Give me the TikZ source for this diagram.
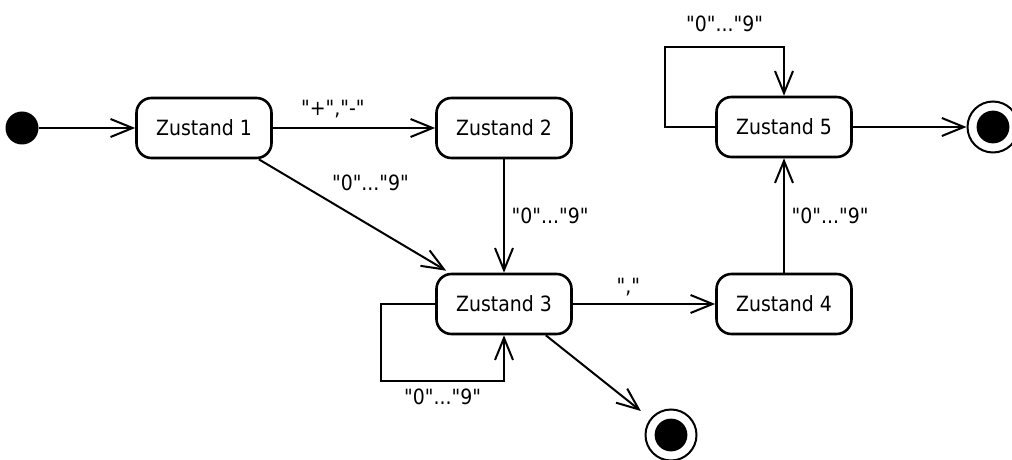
\documentclass[tikz,border=0pt]{standalone}
\usepackage{fontspec}
\setmainfont{DejaVu Sans Condensed}[Ligatures=TeXOff]
\usetikzlibrary{arrows.meta}
\begin{document}
\begin{tikzpicture}[x=0.5pt,y=-0.5pt,font=\fontsize{10.5}{12}\selectfont,
zustand/.style={draw,line width=1.3pt,rounded corners=7.5pt,minimum width=67.5pt,minimum height=30pt,inner sep=0pt},
pfeil/.style={line width=1pt,-{Straight Barb[length=11pt,width=9pt,line width=1pt]}},
start/.style={circle,fill,minimum size=16.5pt,inner sep=0pt},
ende/.style={circle,draw,line width=1pt,minimum size=25.5pt,inner sep=0pt,path picture={\fill(path picture bounding box.center)circle[radius=8.2pt];}}]
\useasboundingbox(0,0)rectangle(1012,460);
\node[start](s)at(22,128){};
\node[zustand](z1)at(204,128){Zustand 1};
\node[zustand](z2)at(504,128){Zustand 2};
\node[zustand](z3)at(504,304){Zustand 3};
\node[zustand](z4)at(784,304){Zustand 4};
\node[zustand](z5)at(784,127){Zustand 5};
\node[ende](e3)at(671,435){};
\node[ende](e5)at(993,127){};
\draw[pfeil](s)--(z1);
\draw[pfeil](z1)--(z2)node[pos=0.37,above=1pt]{"+","-"};
\draw[pfeil]([xshift=-7pt]z1.south east)--([xshift=5.5pt,yshift=1pt]z3.north west)node[pos=0.35,anchor=south west]{"0"..."9"};
\draw[pfeil](z2)--(z3)node[midway,right]{"0"..."9"};
\draw[pfeil](z3.west)--++(-54,0)--++(0,77)-|(z3.south)node[pos=0.25,below]{"0"..."9"};
\draw[pfeil](z3)--(z4)node[pos=0.39,above]{","};
\draw[pfeil,shorten >=6pt]([xshift=-13.5pt]z3.south east)--(e3);
\draw[pfeil](z4)--(z5)node[midway,right]{"0"..."9"};
\draw[pfeil](z5.west)--++(-50,0)--++(0,-80)-|(z5.north)node[pos=0.25,above=4pt]{"0"..."9"};
\draw[pfeil](z5)--(e5);
\end{tikzpicture}
\end{document}
